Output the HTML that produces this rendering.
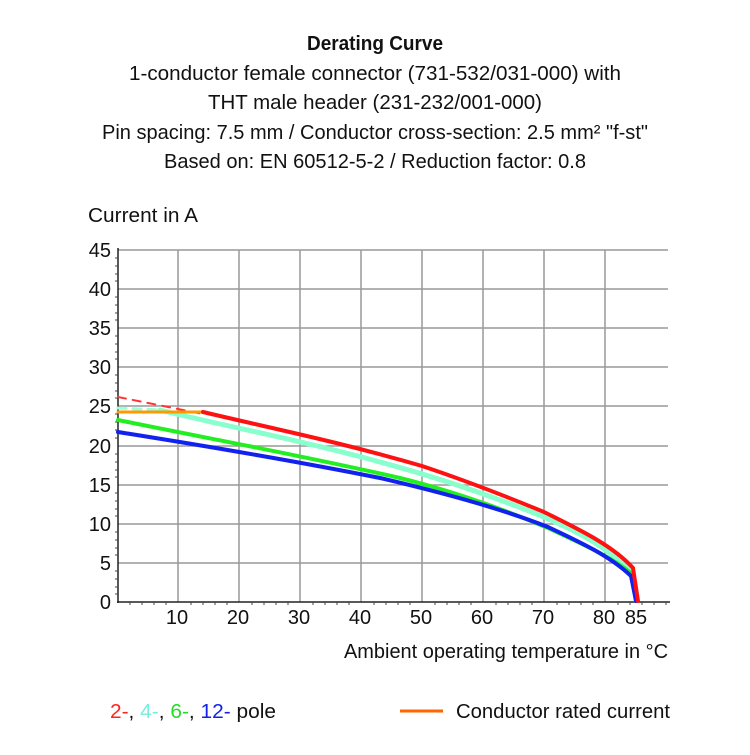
<!DOCTYPE html>
<html><head><meta charset="utf-8"><style>
html,body{margin:0;padding:0;background:#fff}
text{font-family:"Liberation Sans",sans-serif;fill:#111}
</style></head><body>
<svg width="750" height="750" viewBox="0 0 750 750" xmlns="http://www.w3.org/2000/svg">
<g font-size="20" text-anchor="middle">
<text x="375" y="50" font-weight="bold" textLength="136" lengthAdjust="spacingAndGlyphs">Derating Curve</text>
<text x="375" y="80" textLength="492" lengthAdjust="spacingAndGlyphs">1-conductor female connector (731-532/031-000) with</text>
<text x="375" y="109" textLength="334" lengthAdjust="spacingAndGlyphs">THT male header (231-232/001-000)</text>
<text x="375" y="139" textLength="546" lengthAdjust="spacingAndGlyphs">Pin spacing: 7.5 mm / Conductor cross-section: 2.5 mm² "f-st"</text>
<text x="375" y="168" textLength="422" lengthAdjust="spacingAndGlyphs">Based on: EN 60512-5-2 / Reduction factor: 0.8</text>
</g>
<text x="88" y="222" font-size="20" textLength="110" lengthAdjust="spacingAndGlyphs">Current in A</text>
<g stroke="#999" stroke-width="1.5">
<line x1="118" y1="250" x2="668" y2="250"/><line x1="118" y1="289" x2="668" y2="289"/>
<line x1="118" y1="328" x2="668" y2="328"/><line x1="118" y1="367" x2="668" y2="367"/>
<line x1="118" y1="406" x2="668" y2="406"/><line x1="118" y1="446" x2="668" y2="446"/>
<line x1="118" y1="485" x2="668" y2="485"/><line x1="118" y1="524" x2="668" y2="524"/>
<line x1="118" y1="563" x2="668" y2="563"/>
<line x1="178" y1="250" x2="178" y2="602"/><line x1="239" y1="250" x2="239" y2="602"/>
<line x1="300" y1="250" x2="300" y2="602"/><line x1="361" y1="250" x2="361" y2="602"/>
<line x1="422" y1="250" x2="422" y2="602"/><line x1="483" y1="250" x2="483" y2="602"/>
<line x1="544" y1="250" x2="544" y2="602"/><line x1="605" y1="250" x2="605" y2="602"/>
</g>
<g stroke="#222" stroke-width="1.5"><line x1="118" y1="248" x2="118" y2="603"/><line x1="117" y1="602" x2="670" y2="602"/></g>
<g stroke="#444" stroke-width="1">
<path d="M118,258h-3M118,266h-3M118,274h-3M118,281h-3M118,297h-3M118,305h-3M118,313h-3M118,320h-3M118,336h-3M118,344h-3M118,352h-3M118,359h-3M118,375h-3M118,383h-3M118,391h-3M118,398h-3M118,414h-3M118,422h-3M118,430h-3M118,438h-3M118,454h-3M118,462h-3M118,470h-3M118,477h-3M118,493h-3M118,501h-3M118,509h-3M118,516h-3M118,532h-3M118,540h-3M118,548h-3M118,555h-3M118,571h-3M118,579h-3M118,587h-3M118,594h-3"/>
<path d="M130,602v3M142,602v3M154,602v3M166,602v3M191,602v3M203,602v3M215,602v3M227,602v3M252,602v3M264,602v3M276,602v3M288,602v3M313,602v3M325,602v3M337,602v3M349,602v3M374,602v3M386,602v3M398,602v3M410,602v3M435,602v3M447,602v3M459,602v3M471,602v3M496,602v3M508,602v3M520,602v3M532,602v3M557,602v3M569,602v3M581,602v3M593,602v3M618,602v3M630,602v3M642,602v3M654,602v3M666,602v3"/>
</g>
<g font-size="20" text-anchor="end">
<text x="111" y="257">45</text><text x="111" y="296">40</text><text x="111" y="335">35</text>
<text x="111" y="374">30</text><text x="111" y="413">25</text><text x="111" y="453">20</text>
<text x="111" y="492">15</text><text x="111" y="531">10</text><text x="111" y="570">5</text><text x="111" y="609">0</text>
</g>
<g font-size="20" text-anchor="middle">
<text x="177" y="624">10</text><text x="238" y="624">20</text><text x="299" y="624">30</text>
<text x="360" y="624">40</text><text x="421" y="624">50</text><text x="482" y="624">60</text>
<text x="543" y="624">70</text><text x="604" y="624">80</text><text x="636" y="624">85</text>
</g>
<text x="668" y="658" font-size="20" text-anchor="end" textLength="324" lengthAdjust="spacingAndGlyphs">Ambient operating temperature in °C</text>
<g fill="none" stroke-width="4" stroke-linecap="round" stroke-linejoin="round">
<path d="M118,397 L203,414" stroke="#f33" stroke-width="2" stroke-dasharray="8,7"/>
<path d="M118,408 L160,410" stroke="#9fd" stroke-width="3" stroke-dasharray="8,7"/>
<path d="M160,410 C220,425 300,440 380,462 C440,478 490,495 544,517 C580,533 610,548 633,575" stroke="#8fc" stroke-width="5"/>
<path d="M118,420 C200,437 300,455 400,478 C460,493 510,512 548,528 C580,543 610,556 632,574 L636,601" stroke="#2e2"/>
<path d="M118,432 C200,445 300,462 380,478 C440,492 500,508 548,527 C580,542 610,556 631,576 L636,601" stroke="#12e"/>
<path d="M118,412 L203,412" stroke="#f90" stroke-width="3"/>
<path d="M203,412 C270,428 340,442 422,466 C470,482 510,498 544,512 C580,530 612,545 633,568 L638,601" stroke="#f11"/>
</g>
<text x="110" y="718" font-size="20" textLength="166" lengthAdjust="spacingAndGlyphs"><tspan fill="#f22">2-</tspan>, <tspan fill="#7ed">4-</tspan>, <tspan fill="#2d2">6-</tspan>, <tspan fill="#12e">12-</tspan> pole</text>
<line x1="400" y1="711" x2="443" y2="711" stroke="#f60" stroke-width="3"/>
<text x="456" y="718" font-size="20" textLength="214" lengthAdjust="spacingAndGlyphs">Conductor rated current</text>
</svg>
</body></html>
